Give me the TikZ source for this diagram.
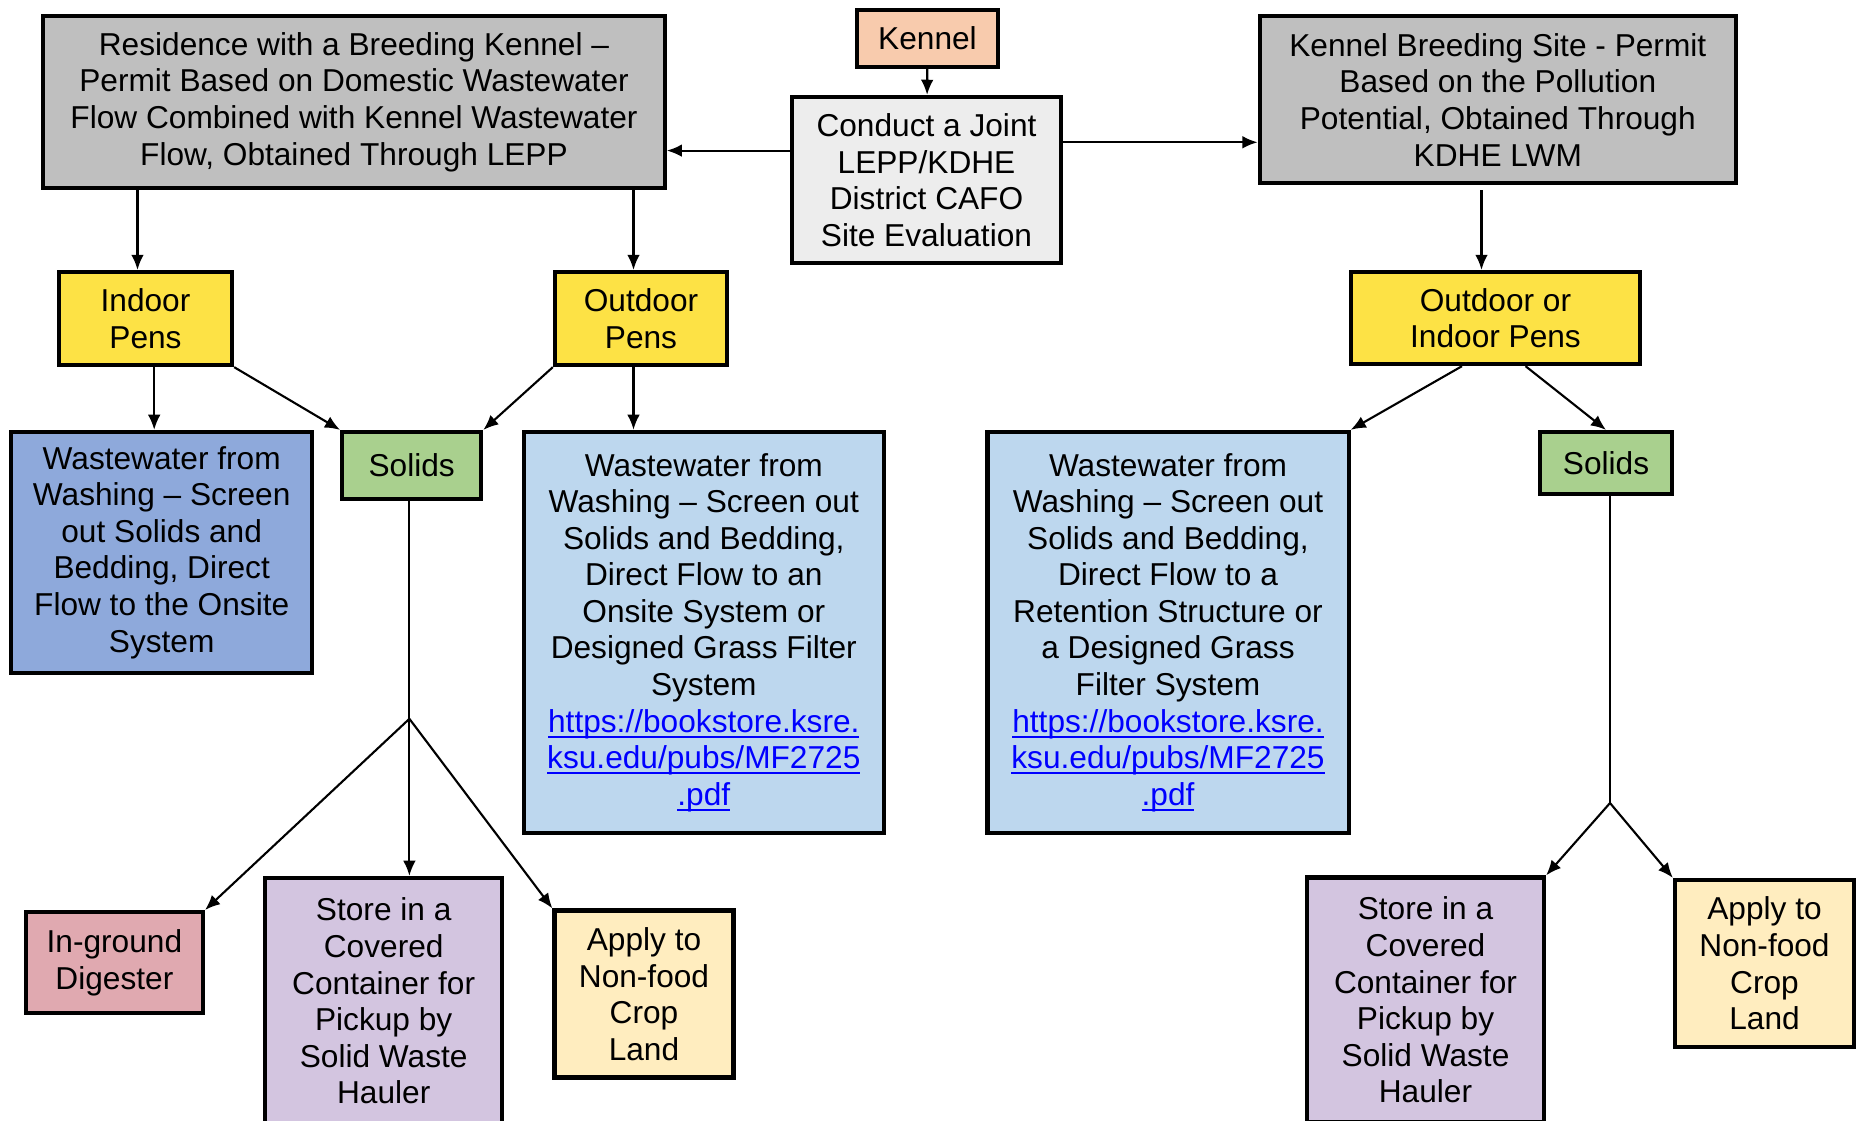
\documentclass[tikz,border=0pt]{standalone}
\usepackage{fontspec}
\setmainfont{Liberation Sans}
\usetikzlibrary{positioning,arrows.meta,calc}
\definecolor{permitgray}{HTML}{BFBFBF}
\definecolor{kennelpeach}{HTML}{F8CBAD}
\definecolor{evalgray}{HTML}{EDEDED}
\definecolor{penyellow}{HTML}{FDE245}
\definecolor{waterdark}{HTML}{8EA9DB}
\definecolor{waterlight}{HTML}{BDD7EE}
\definecolor{solidgreen}{HTML}{A9D08E}
\definecolor{digestpink}{HTML}{E0A9B0}
\definecolor{storelilac}{HTML}{D3C5E0}
\definecolor{applycream}{HTML}{FFEDBF}
\definecolor{linkblue}{HTML}{0000FF}
\newcommand{\weblink}[1]{\textcolor{linkblue}{\setbox0\hbox{#1}\rlap{\rule[-1.6pt]{\wd0}{0.6pt}}\box0}}
\tikzset{
    x=0.01cm,
    y=-0.01cm,
    block/.style = {
        draw,
        shape=rectangle,
        line width=1.2pt,
        align=center,
        inner sep=0pt,
        font=\fontsize{9}{10.4}\selectfont
    },
    permit/.style = {block, fill=permitgray},
    kennelbox/.style = {block, fill=kennelpeach},
    evalbox/.style = {block, fill=evalgray},
    pens/.style = {block, fill=penyellow},
    water/.style = {block, fill=waterlight},
    onsite/.style = {block, fill=waterdark},
    solids/.style = {block, fill=solidgreen},
    digest/.style = {block, fill=digestpink},
    store/.style = {block, fill=storelilac},
    landapply/.style = {block, fill=applycream},
    flow/.style = {line width=0.6pt},
    >={Latex[length=4.3pt,width=3.6pt]},
}
\begin{document}
\begin{tikzpicture}
    \useasboundingbox (0,0) rectangle (1860,1120);

    \node[permit, minimum width=6.21cm, minimum height=1.72cm] (res) at (354,102) {Residence with a Breeding Kennel –\\Permit Based on Domestic Wastewater\\Flow Combined with Kennel Wastewater\\Flow, Obtained Through LEPP};
    \node[kennelbox, minimum width=1.41cm, minimum height=0.57cm] (kennel) at (927.5,38.5) {Kennel};
    \node[evalbox, minimum width=2.69cm, minimum height=1.66cm] (conduct) at (926.5,180) {Conduct a Joint\\LEPP/KDHE\\District CAFO\\Site Evaluation};
    \node[permit, minimum width=4.76cm, minimum height=1.67cm] (kbs) at (1497.8,99.7) {Kennel Breeding Site - Permit\\Based on the Pollution\\Potential, Obtained Through\\KDHE LWM};

    \node[pens, minimum width=1.73cm, minimum height=0.93cm] (indoor) at (145.5,318.5) {Indoor\\Pens};
    \node[pens, minimum width=1.72cm, minimum height=0.93cm] (outdoor) at (641,318.5) {Outdoor\\Pens};
    \node[pens, minimum width=2.89cm, minimum height=0.92cm] (oip) at (1495.5,318) {Outdoor or\\Indoor Pens};

    \node[onsite, minimum width=3.01cm, minimum height=2.41cm] (ww1) at (161.7,552.5) {Wastewater from\\Washing – Screen\\out Solids and\\Bedding, Direct\\Flow to the Onsite\\System};
    \node[solids, minimum width=1.39cm, minimum height=0.67cm] (sol1) at (411.7,465.5) {Solids};
    \node[water, minimum width=3.6cm, minimum height=4.01cm] (ww2) at (703.8,632.5) {Wastewater from\\Washing – Screen out\\Solids and Bedding,\\Direct Flow to an\\Onsite System or\\Designed Grass Filter\\System\\\weblink{https://bookstore.ksre.}\\\weblink{ksu.edu/pubs/MF2725}\\\weblink{.pdf}};
    \node[water, minimum width=3.61cm, minimum height=4.01cm] (ww3) at (1168,632.5) {Wastewater from\\Washing – Screen out\\Solids and Bedding,\\Direct Flow to a\\Retention Structure or\\a Designed Grass\\Filter System\\\weblink{https://bookstore.ksre.}\\\weblink{ksu.edu/pubs/MF2725}\\\weblink{.pdf}};
    \node[solids, minimum width=1.32cm, minimum height=0.62cm] (sol2) at (1606,463) {Solids};

    \node[digest, minimum width=1.77cm, minimum height=1.01cm] (dig) at (114.4,962.6) {In-ground\\Digester};
    \node[store, minimum width=2.37cm, minimum height=2.46cm] (store1) at (383.7,1001) {Store in a\\Covered\\Container for\\Pickup by\\Solid Waste\\Hauler};
    \node[landapply, minimum width=1.79cm, minimum height=1.67cm] (apply1) at (644,994) {Apply to\\Non-food\\Crop\\Land};
    \node[store, minimum width=2.37cm, minimum height=2.45cm] (store2) at (1425.5,1000) {Store in a\\Covered\\Container for\\Pickup by\\Solid Waste\\Hauler};
    \node[landapply, minimum width=1.79cm, minimum height=1.67cm] (apply2) at (1764.5,963.5) {Apply to\\Non-food\\Crop\\Land};

    \coordinate (fork1) at (409.4,718.8);
    \coordinate (fork2) at (1610,803);

    \draw[flow, ->] (kennel) -- (conduct);
    \draw[flow, ->] ([yshift=2.94mm]conduct.west) -- ([yshift=2.94mm]conduct.west -| res.east);
    \draw[flow, ->] ([yshift=3.77mm]conduct.east) -- ([yshift=3.77mm]conduct.east -| kbs.west);

    \draw[flow, ->] ([xshift=-0.8mm]indoor.north |- res.south) -- ([xshift=-0.8mm]indoor.north);
    \draw[flow, ->] ([xshift=-0.75mm]outdoor.north |- res.south) -- ([xshift=-0.75mm]outdoor.north);
    \draw[flow, ->, shorten <=0.5mm] ([xshift=-1.4mm]oip.north |- kbs.south) -- ([xshift=-1.4mm]oip.north);

    \draw[flow, ->] ([xshift=0.87mm]indoor.south) -- ([xshift=0.87mm]indoor.south |- ww1.north);
    \draw[flow, ->] (indoor.south east) -- (sol1.north west);
    \draw[flow, ->] (outdoor.south west) -- (sol1.north east);
    \draw[flow, ->] ([xshift=-0.75mm]outdoor.south) -- ([xshift=-0.75mm]outdoor.south |- ww2.north);
    \draw[flow, ->] ([xshift=-3.35mm]oip.south) -- (ww3.north east);
    \draw[flow, ->] ([xshift=3mm]oip.south) -- (sol2.north);

    \draw[flow] (fork1 |- sol1.south) -- (fork1);
    \draw[flow, ->] (fork1) -- (dig.north east);
    \draw[flow, ->] (fork1) -- (fork1 |- store1.north);
    \draw[flow, ->] (fork1) -- (apply1.north west);

    \draw[flow] (fork2 |- sol2.south) -- (fork2);
    \draw[flow, ->] (fork2) -- (store2.north east);
    \draw[flow, ->] (fork2) -- (apply2.north west);
\end{tikzpicture}
\end{document}
